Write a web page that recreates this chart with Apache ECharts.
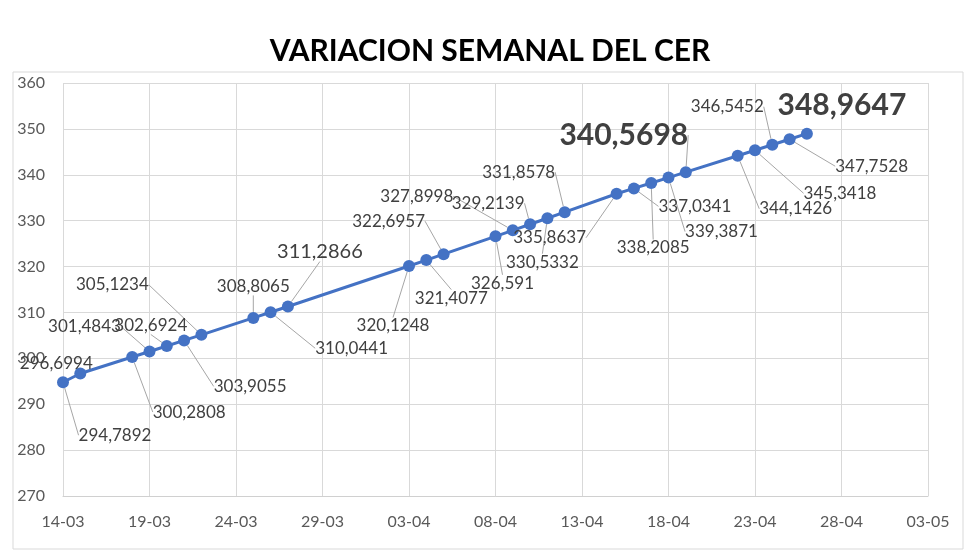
<!DOCTYPE html>
<html>
<head>
<meta charset="utf-8">
<script src="https://cdn.jsdelivr.net/npm/echarts@6/dist/echarts.min.js"></script>
<style>
html,body{margin:0;padding:0;background:#fff;}
#chart{width:980px;height:560px;}
</style>
</head>
<body>
<div id="chart"></div>
<script>
// ---- data ----
const YEAR = 2024;
const START_DATE = '14-03';
const END_DATE = '03-05';
const dates = ['14-03','15-03','18-03','19-03','20-03','21-03','22-03','25-03','26-03','27-03',
  '03-04','04-04','05-04','08-04','09-04','10-04','11-04','12-04','15-04','16-04','17-04','18-04','19-04',
  '22-04','23-04','24-04','25-04','26-04'];
const cer = [294.7892,296.6994,300.2808,301.4843,302.6924,303.9055,305.1234,308.8065,310.0441,311.2866,
  320.1248,321.4077,322.6957,326.591,327.8998,329.2139,330.5332,331.8578,335.8637,337.0341,338.2085,339.3871,340.5698,
  344.1426,345.3418,346.5452,347.7528,348.9647];
const yMin = 270, yMax = 360, yStep = 10;
const xStepDays = 5;
const titleText = 'VARIACION SEMANAL DEL CER';

// ---- layout (label placement offsets, px) ----
const labelOffsets = [
  [52,53],[-24,-10],[57,55],[-65,-25],[-16,-20],[66,46],[-89,-50],[0,-31],[81,36],[32,-55],
  [-16,60],[25,38],[-55,-33],[7,47],[-96,-34],[-42,-21],[-5,44],[-46,-40],[-67,44],[61,18],
  [2,65],[53,54],[-62,-37],[58,53],[85,43],[-45,-38],[82,27],[35,-28]
];
const noLeader = {1:true, 27:true};
const bigLabel = {9:{fontSize:20}, 22:{fontSize:30,fontWeight:'bold'}, 27:{fontSize:30,fontWeight:'bold'}};

const DAY = 86400000;
function toDays(s){
  const [d,m] = s.split('-').map(Number);
  return Math.round((Date.UTC(YEAR,m-1,d) - Date.UTC(YEAR,2,14)) / DAY);
}
function fmtDay(n){
  const dt = new Date(Date.UTC(YEAR,2,14) + n*DAY);
  const d = String(dt.getUTCDate()).padStart(2,'0');
  const m = String(dt.getUTCMonth()+1).padStart(2,'0');
  return d + '-' + m;
}
const FONT = 'Lato';
const seriesData = dates.map((d,i) => {
  const item = {value:[toDays(d), cer[i]]};
  const lab = {};
  if (bigLabel[i]) Object.assign(lab, bigLabel[i]);
  item.label = lab;
  if (noLeader[i]) item.labelLine = {show:false};
  return item;
});

const chart = echarts.init(document.getElementById('chart'));
chart.setOption({
  backgroundColor:'#ffffff',
  animation:false,
  title:{
    text:titleText, left:'center', top:31,
    textStyle:{fontFamily:FONT, fontSize:30, fontWeight:'bold', color:'#000000'}
  },
  graphic:[{
    type:'rect', silent:true, z:-10,
    shape:{x:13,y:72,width:950,height:477},
    style:{fill:'none', stroke:'#D9D9D9', lineWidth:1}
  }],
  grid:{left:63, right:52, top:83, bottom:64},
  xAxis:{
    type:'value', min:toDays(START_DATE), max:toDays(END_DATE), interval:xStepDays,
    axisLine:{show:true, lineStyle:{color:'#D0D0D0'}},
    axisTick:{show:false},
    splitLine:{show:true, lineStyle:{color:'#D9D9D9'}},
    axisLabel:{formatter:v=>fmtDay(v), fontFamily:FONT, fontSize:16, color:'#595959', margin:18}
  },
  yAxis:{
    type:'value', min:yMin, max:yMax, interval:yStep,
    axisLine:{show:false}, axisTick:{show:false},
    splitLine:{show:true, lineStyle:{color:'#D9D9D9'}},
    axisLabel:{fontFamily:FONT, fontSize:16, color:'#595959', margin:18}
  },
  series:[{
    type:'line',
    data:seriesData,
    symbol:'circle', symbolSize:12,
    lineStyle:{color:'#4472C4', width:3},
    itemStyle:{color:'#4472C4'},
    label:{
      show:true, position:'inside',
      fontFamily:FONT, fontSize:17, color:'#404040',
      formatter:p=>String(p.value[1]).replace('.', ',')
    },
    labelLine:{show:true, lineStyle:{color:'#A6A6A6', width:1}},
    labelLayout:function(params){
      const o = labelOffsets[params.dataIndex];
      return {dx:o[0], dy:o[1]};
    }
  }]
});
</script>
</body>
</html>
